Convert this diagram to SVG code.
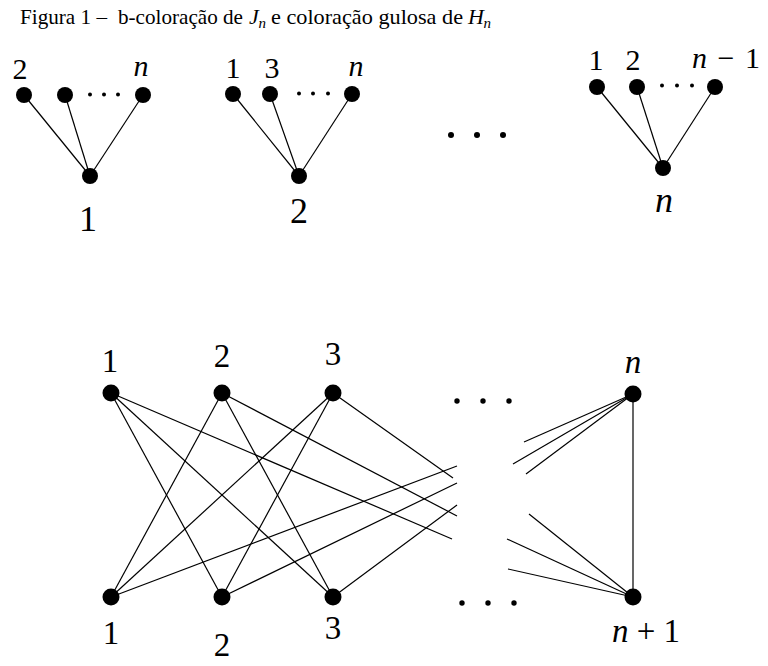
<svg xmlns="http://www.w3.org/2000/svg" width="768" height="666" viewBox="0 0 768 666">
<style>
.e{stroke:#000;stroke-width:1.2;fill:none}
.v{fill:#000}
</style>
<rect width="768" height="666" fill="#fff"/>
<g id="title" font-family="Liberation Serif, Times New Roman, serif" font-size="22" fill="#000">
<text x="20" y="24" textLength="87" lengthAdjust="spacingAndGlyphs">Figura 1 –</text>
<text x="118" y="24" textLength="125" lengthAdjust="spacingAndGlyphs">b-coloração de</text>
<text x="249" y="24" font-style="italic">J</text>
<text x="258.5" y="28" font-style="italic" font-size="15">n</text>
<text x="271" y="24" textLength="192" lengthAdjust="spacingAndGlyphs">e coloração gulosa de</text>
<text x="468" y="24" font-style="italic">H</text>
<text x="483.5" y="28" font-style="italic" font-size="15">n</text>
</g>
<g id="connectors">
<line class="e" x1="24" y1="95" x2="90" y2="176"/>
<line class="e" x1="65" y1="95" x2="90" y2="176"/>
<line class="e" x1="143" y1="95" x2="90" y2="176"/>
<line class="e" x1="233" y1="94" x2="299" y2="176"/>
<line class="e" x1="270" y1="94" x2="299" y2="176"/>
<line class="e" x1="352" y1="94" x2="299" y2="176"/>
<line class="e" x1="597" y1="87" x2="663" y2="168"/>
<line class="e" x1="637" y1="87" x2="663" y2="168"/>
<line class="e" x1="715" y1="87" x2="663" y2="168"/>
<line class="e" x1="111" y1="393" x2="222" y2="597"/>
<line class="e" x1="111" y1="393" x2="333" y2="597"/>
<line class="e" x1="111" y1="393" x2="452" y2="539"/>
<line class="e" x1="222" y1="393" x2="111" y2="597"/>
<line class="e" x1="222" y1="393" x2="333" y2="597"/>
<line class="e" x1="222" y1="393" x2="457" y2="516"/>
<line class="e" x1="333" y1="393" x2="111" y2="597"/>
<line class="e" x1="333" y1="393" x2="222" y2="597"/>
<line class="e" x1="333" y1="393" x2="453" y2="478"/>
<line class="e" x1="111" y1="597" x2="457" y2="466"/>
<line class="e" x1="222" y1="597" x2="457" y2="483"/>
<line class="e" x1="333" y1="597" x2="457" y2="505"/>
<line class="e" x1="633" y1="394" x2="524" y2="442"/>
<line class="e" x1="633" y1="394" x2="513" y2="464"/>
<line class="e" x1="633" y1="394" x2="526" y2="474"/>
<line class="e" x1="633" y1="597" x2="529" y2="514"/>
<line class="e" x1="633" y1="597" x2="507" y2="539"/>
<line class="e" x1="633" y1="597" x2="508" y2="569"/>
<line class="e" x1="633" y1="394" x2="633" y2="597"/>
</g>
<g id="graph1" font-family="Liberation Serif, Times New Roman, serif" fill="#000" text-anchor="middle">
<circle class="v" cx="24" cy="95" r="8"/>
<circle class="v" cx="65" cy="95" r="8"/>
<circle class="v" cx="143" cy="95" r="8"/>
<circle class="v" cx="90" cy="176" r="8"/>
<circle class="v" cx="90" cy="94.5" r="2"/>
<circle class="v" cx="104" cy="94.5" r="2"/>
<circle class="v" cx="118" cy="94.5" r="2"/>
<text x="20" y="79" font-size="30">2</text>
<text x="141" y="76" font-size="30" font-style="italic">n</text>
<text x="88" y="231" font-size="36">1</text>
</g>
<g id="graph2" font-family="Liberation Serif, Times New Roman, serif" fill="#000" text-anchor="middle">
<circle class="v" cx="233" cy="94" r="8"/>
<circle class="v" cx="270" cy="94" r="8"/>
<circle class="v" cx="352" cy="94" r="8"/>
<circle class="v" cx="299" cy="176" r="8"/>
<circle class="v" cx="299" cy="93.5" r="2"/>
<circle class="v" cx="313" cy="93.5" r="2"/>
<circle class="v" cx="328" cy="93.5" r="2"/>
<text x="233" y="78" font-size="30">1</text>
<text x="272" y="78" font-size="30">3</text>
<text x="356" y="76" font-size="30" font-style="italic">n</text>
<text x="299" y="223" font-size="36">2</text>
</g>
<g id="ellipsis-top">
<circle class="v" cx="451" cy="135" r="3"/>
<circle class="v" cx="477" cy="135" r="3"/>
<circle class="v" cx="503" cy="135" r="3"/>
</g>
<g id="graph3" font-family="Liberation Serif, Times New Roman, serif" fill="#000">
<circle class="v" cx="597" cy="87" r="8"/>
<circle class="v" cx="637" cy="87" r="8"/>
<circle class="v" cx="715" cy="87" r="8"/>
<circle class="v" cx="663" cy="168" r="8"/>
<circle class="v" cx="662" cy="85.5" r="2"/>
<circle class="v" cx="677" cy="85.5" r="2"/>
<circle class="v" cx="692" cy="85.5" r="2"/>
<text x="596" y="70" font-size="30" text-anchor="middle">1</text>
<text x="633" y="70" font-size="30" text-anchor="middle">2</text>
<text x="692" y="68" font-size="30" textLength="68" lengthAdjust="spacing"><tspan font-style="italic">n</tspan> − 1</text>
<text x="664" y="212" font-size="36" font-style="italic" text-anchor="middle">n</text>
</g>
<g id="graph4" font-family="Liberation Serif, Times New Roman, serif" fill="#000" font-size="33">
<g id="u1"><circle class="v" cx="111" cy="393" r="8.5"/><text x="110" y="372" text-anchor="middle">1</text></g>
<g id="u2"><circle class="v" cx="222" cy="393" r="8.5"/><text x="222" y="367" text-anchor="middle">2</text></g>
<g id="u3"><circle class="v" cx="333" cy="393" r="8.5"/><text x="333" y="365" text-anchor="middle">3</text></g>
<g id="un"><circle class="v" cx="633" cy="394" r="8.5"/><text x="633" y="373" text-anchor="middle" font-style="italic">n</text></g>
<g id="w1"><circle class="v" cx="111" cy="597" r="8.5"/><text x="111" y="644" text-anchor="middle">1</text></g>
<g id="w2"><circle class="v" cx="222" cy="597" r="8.5"/><text x="222" y="656" text-anchor="middle">2</text></g>
<g id="w3"><circle class="v" cx="333" cy="597" r="8.5"/><text x="333" y="639" text-anchor="middle">3</text></g>
<g id="wn1"><circle class="v" cx="633" cy="597" r="8.5"/><text x="612" y="642"><tspan font-style="italic">n</tspan> + 1</text></g>
<circle class="v" cx="457" cy="401" r="2.7"/>
<circle class="v" cx="483" cy="401" r="2.7"/>
<circle class="v" cx="509" cy="401" r="2.7"/>
<circle class="v" cx="462" cy="603" r="2.7"/>
<circle class="v" cx="488" cy="603" r="2.7"/>
<circle class="v" cx="514" cy="603" r="2.7"/>
</g>
</svg>
